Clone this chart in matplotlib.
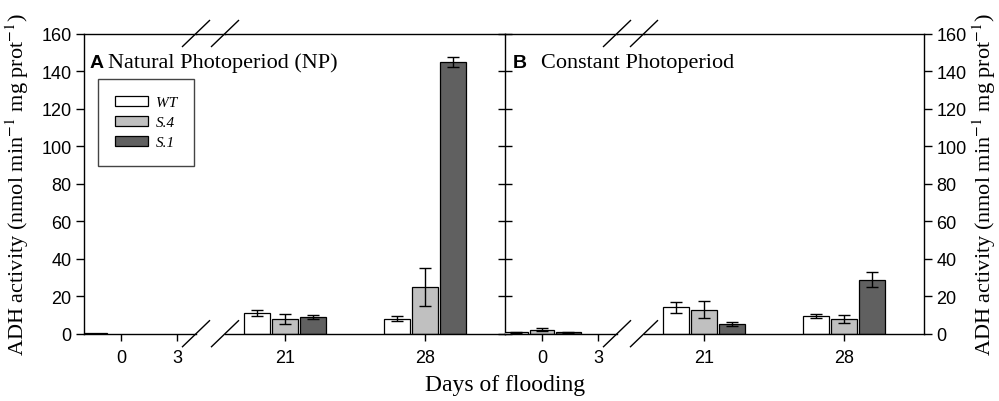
import matplotlib
matplotlib.use("Agg")
import matplotlib.pyplot as plt
import numpy as np
from matplotlib.lines import Line2D
from matplotlib.patches import Patch

plt.rcParams['font.family'] = 'Liberation Sans'
plt.rcParams['mathtext.fontset'] = 'stix'

nan = np.nan

# days of flooding, one entry per bar group
days = [0, 3, 21, 28]
genotypes = ['WT', 'S.4', 'S.1']
colors = ['white', '#c0c0c0', '#606060']

# A: natural photoperiod (NP)
np_wt = [0.4, nan, 10.8, 8.0]
np_wt_err = [nan, nan, 1.6, 1.2]
np_s4 = [nan, nan, 7.8, 24.9]
np_s4_err = [nan, nan, 2.5, 10.2]
np_s1 = [nan, nan, 8.9, 145.0]
np_s1_err = [nan, nan, 1.1, 2.7]

# B: constant photoperiod
cp_wt = [0.8, nan, 14.0, 9.4]
cp_wt_err = [0.3, nan, 3.1, 1.2]
cp_s4 = [2.0, nan, 12.8, 8.0]
cp_s4_err = [0.8, nan, 4.4, 2.1]
cp_s1 = [0.8, nan, 5.3, 28.8]
cp_s1_err = [0.3, nan, 1.2, 4.0]

yticks = [0, 20, 40, 60, 80, 100, 120, 140, 160]

W, H = 999, 402
fig = plt.figure(figsize=(W / 100, H / 100), dpi=100)

bot = 1 - 334.7 / H
hgt = (334.7 - 34.5) / H

def px(x0, x1):
    return [x0 / W, bot, (x1 - x0) / W, hgt]

axA0 = fig.add_axes(px(84, 196))
axA1 = fig.add_axes(px(225, 505))
axB0 = fig.add_axes(px(505, 617))
axB1 = fig.add_axes(px(644, 924))

bar_w = 1.3
step = 1.4

def draw(ax, series, errs):
    x = np.array(days, dtype=float)
    for i, (vals, err) in enumerate(zip(series, errs)):
        xi = x + (i - 1) * step
        ax.bar(xi, vals, width=bar_w, color=colors[i], edgecolor='black', linewidth=0.9, zorder=2)
        ax.errorbar(xi, vals, yerr=err, fmt='none', ecolor='black', elinewidth=1,
                    capsize=4, capthick=1, zorder=3)

for ax in (axA0, axA1):
    draw(ax, [np_wt, np_s4, np_s1], [np_wt_err, np_s4_err, np_s1_err])
for ax in (axB0, axB1):
    draw(ax, [cp_wt, cp_s4, cp_s1], [cp_wt_err, cp_s4_err, cp_s1_err])

for ax in (axA0, axB0):
    ax.set_xlim(-2, 4)
    ax.set_xticks([0, 3])
for ax in (axA1, axB1):
    ax.set_xlim(18, 32)
    ax.set_xticks([21, 28])

for ax in (axA0, axA1, axB0, axB1):
    ax.set_ylim(0, 160)
    ax.set_yticks(yticks)
    ax.tick_params(axis='x', direction='out', length=5, width=1, pad=6, labelsize=13)
    ax.tick_params(axis='y', length=6, width=1, pad=3, labelsize=13)
    for s in ax.spines.values():
        s.set_linewidth(1)
    ax.patch.set_alpha(0)

axA0.spines['right'].set_visible(False)
axA1.spines['left'].set_visible(False)
axA1.tick_params(axis='y', left=False, labelleft=False, right=True, direction='inout', length=10)
axB0.spines['left'].set_visible(False)
axB0.spines['right'].set_visible(False)
axB0.tick_params(axis='y', left=False, labelleft=False)
axB1.spines['left'].set_visible(False)
axB1.tick_params(axis='y', left=False, labelleft=False, right=True, labelright=True)

# top spine across the break, and the break marks
top_y = 1 - 34.5 / H
for a0, a1 in ((axA0, axA1), (axB0, axB1)):
    xl = a0.get_position().x1
    xr = a1.get_position().x0
    fig.add_artist(Line2D([xl, xr], [top_y, top_y], color='black', lw=1))
    for xc in (xl, xr):
        for yc in (bot, top_y):
            fig.add_artist(Line2D([xc - 13.5 / W, xc + 13.5 / W], [yc - 13 / H, yc + 13 / H],
                                  color='black', lw=1))

# panel titles
ty = 1 - 68 / H
fig.text(90 / W, ty, 'A', fontsize=14, fontweight='bold', va='baseline')
fig.text(108 / W, ty, 'Natural Photoperiod (NP)', family='Liberation Serif', fontsize=16, va='baseline')
fig.text(513 / W, ty, 'B', fontsize=14, fontweight='bold', va='baseline')
fig.text(541 / W, ty, 'Constant Photoperiod', family='Liberation Serif', fontsize=16, va='baseline')

ylab = r'ADH activity (nmol min$^{-1}$ mg prot$^{-1}$)'
yc = bot + hgt / 2
fig.text(17 / W, yc, ylab, family='Liberation Serif', fontsize=16, rotation=90, ha='center', va='center')
fig.text(984 / W, yc, ylab, family='Liberation Serif', fontsize=16, rotation=90, ha='center', va='center')
fig.text(505 / W, 1 - 386 / H, 'Days of flooding', family='Liberation Serif', fontsize=17, ha='center', va='center')

handles = [Patch(facecolor=c, edgecolor='black', linewidth=0.9, label=g) for g, c in zip(genotypes, colors)]
leg = fig.legend(handles=handles, loc='upper left', bbox_to_anchor=(98 / W, 1 - 80 / H),
                 bbox_transform=fig.transFigure, borderaxespad=0, fancybox=False,
                 prop=dict(family='Liberation Serif', style='italic', size=11),
                 borderpad=1.1, handlelength=2.2, handleheight=0.6, labelspacing=0.45,
                 handletextpad=0.5, edgecolor='#444444', framealpha=1)
leg.get_frame().set_linewidth(1)

fig.savefig('out.png', dpi=100)
